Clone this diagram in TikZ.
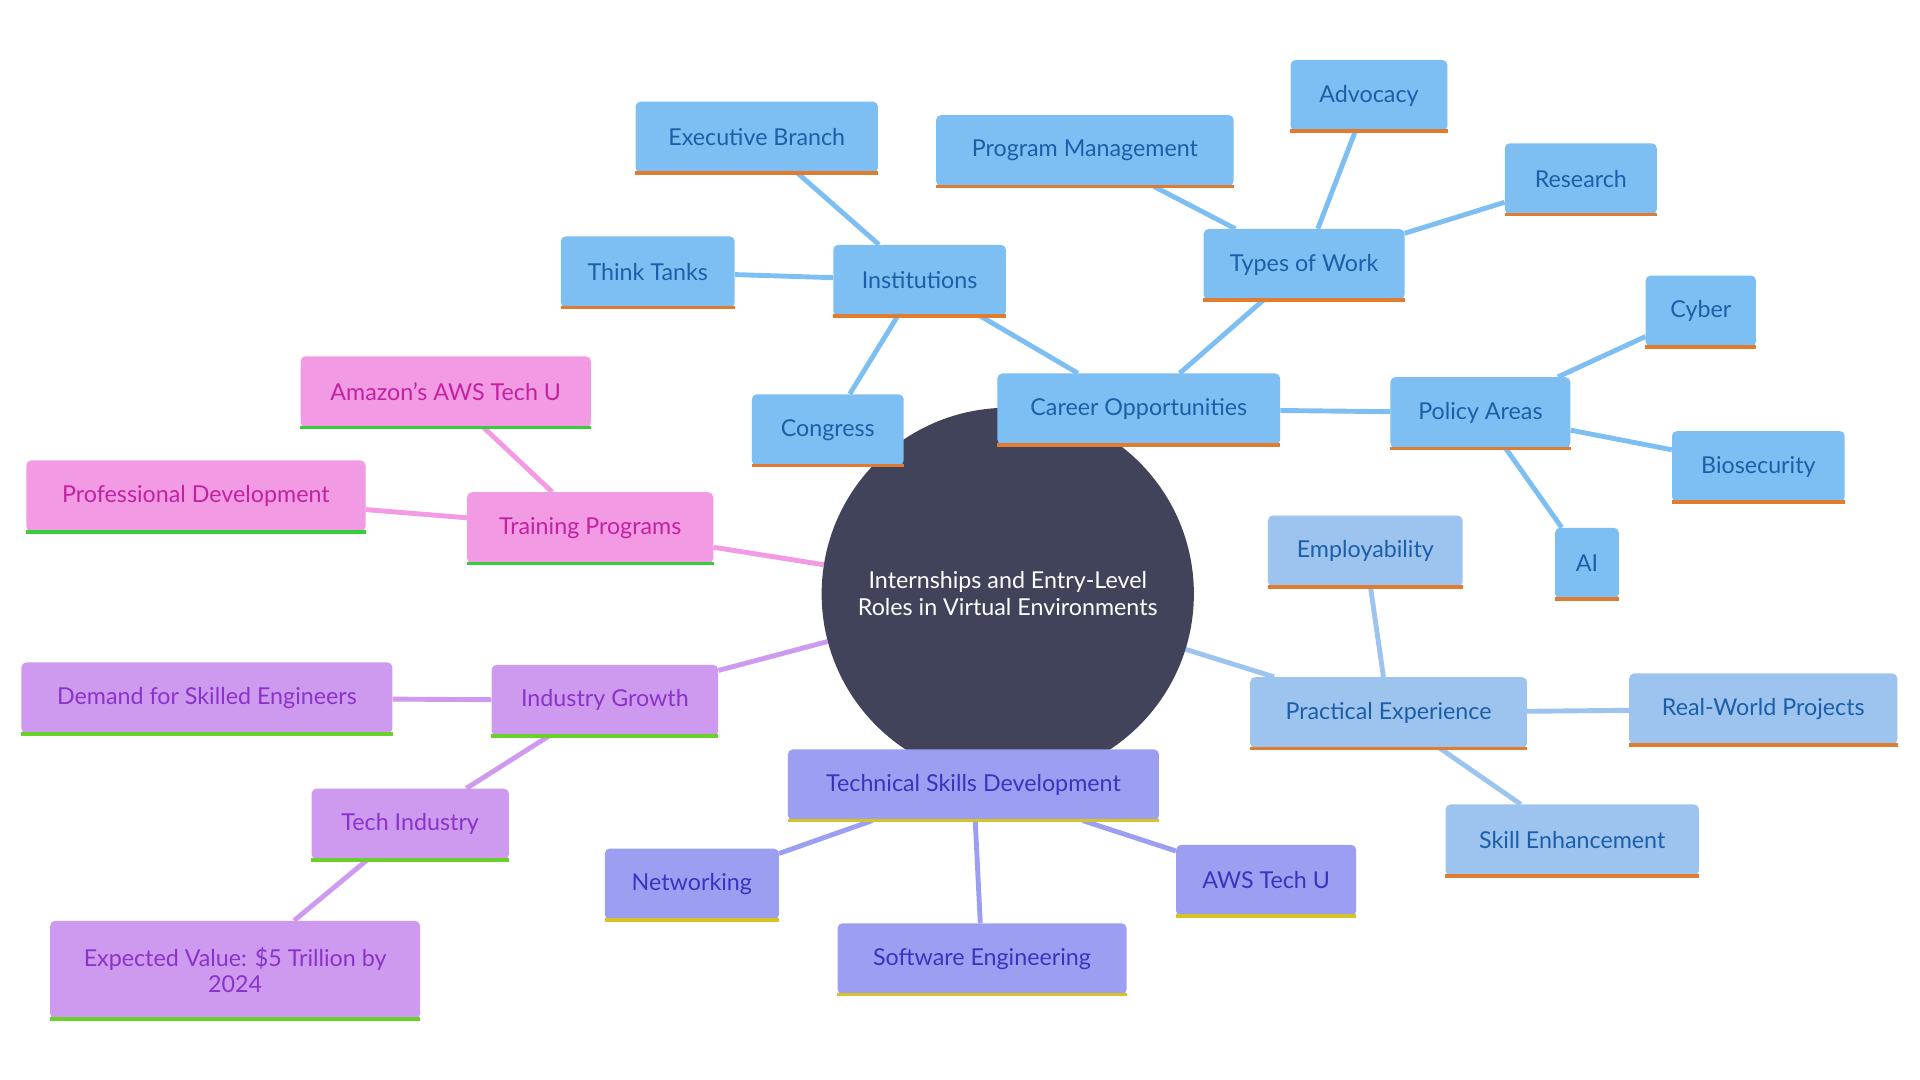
\documentclass[tikz,border=0pt]{standalone}
\usepackage{fontspec}
\setmainfont{Lato}
\usetikzlibrary{backgrounds}
\definecolor{hub}{HTML}{40435A}
\definecolor{cblue}{HTML}{7DBFF2}\definecolor{tblue}{HTML}{1B5FA8}
\definecolor{cpale}{HTML}{9DC3EF}
\definecolor{cviolet}{HTML}{9C9FF1}\definecolor{tviolet}{HTML}{3A33C0}
\definecolor{cpurple}{HTML}{CD9AF0}\definecolor{tpurple}{HTML}{8B32C8}
\definecolor{cpink}{HTML}{F29BE4}\definecolor{tpink}{HTML}{C2229F}
\definecolor{lorange}{HTML}{E07B30}\definecolor{lyellow}{HTML}{D6C423}
\definecolor{lgreen}{HTML}{6BD12A}\definecolor{lgreen2}{HTML}{35CE3A}
\tikzset{
  box/.style={rounded corners=4pt, minimum height=58pt, inner sep=0pt, align=center, font=\fontsize{19}{21}\selectfont},
  blue/.style={box, fill=cblue, text=tblue},
  pale/.style={box, fill=cpale, text=tblue},
  violet/.style={box, fill=cviolet, text=tviolet},
  purple/.style={box, fill=cpurple, text=tpurple},
  pink/.style={box, fill=cpink, text=tpink},
  link/.style={line width=4pt},
}
\begin{document}
\begin{tikzpicture}[x=1pt,y=-1pt]
  \useasboundingbox (0,0) rectangle (1568,882);
  \node[circle, fill=hub, minimum size=304pt, text=white, align=center, font=\fontsize{19}{22}\selectfont] (hubnode) at (823,485) {Internships and Entry-Level\\Roles in Virtual Environments};
  % boxes: name / x / y / width / style / text
  \foreach \n/\x/\y/\w/\s/\t in {
    career/930/334/231/blue/Career Opportunities,
    inst/751/229/141/blue/Institutions,
    exec/618/112/198/blue/Executive Branch,
    think/529/222/142/blue/Think Tanks,
    cong/676/351/124/blue/Congress,
    types/1065/216/164/blue/Types of Work,
    prog/886/123/243/blue/Program Management,
    advo/1118/78/128/blue/Advocacy,
    resr/1291/146/124/blue/Research,
    policy/1209/337/147/blue/Policy Areas,
    cyber/1389/254/90/blue/Cyber,
    bios/1436/381/141/blue/Biosecurity,
    ai/1296/460/52/blue/AI,
    pract/1134/582/226/pale/Practical Experience,
    empl/1115/450/159/pale/Employability,
    real/1440/579/219/pale/Real-World Projects,
    skill/1284/686/207/pale/Skill Enhancement,
    tech/795/641/303/violet/Technical Skills Development,
    netw/565/722/142/violet/Networking,
    soft/802/783/236/violet/Software Engineering,
    aws/1034/719/147/violet/AWS Tech U,
    indg/494/572/185/purple/Industry Growth,
    dem/169/570/303/purple/Demand for Skilled Engineers,
    tind/335/673/161/purple/Tech Industry,
    train/482/431/201/pink/Training Programs,
    prof/160/405/277/pink/Professional Development,
    amaz/364/320/237/pink/Amazon’s AWS Tech U}
    \node[\s, minimum width=\w pt] (\n) at (\x,\y) {\t};
  \node[purple, minimum width=302pt, minimum height=80pt] (expv) at (192,792) {Expected Value: \$5 Trillion by\\2024};
  % bottom lines
  \foreach \n in {career,inst,exec,think,cong,types,prog,advo,resr,policy,cyber,bios,ai,pract,empl,real,skill}
    \draw[line width=3pt, lorange] (\n.south west) -- (\n.south east);
  \foreach \n in {tech,netw,soft,aws}
    \draw[line width=3pt, lyellow] (\n.south west) -- (\n.south east);
  \foreach \n in {indg,dem,tind,expv}
    \draw[line width=3pt, lgreen] (\n.south west) -- (\n.south east);
  \foreach \n in {train,prof,amaz}
    \draw[line width=3pt, lgreen2] (\n.south west) -- (\n.south east);
  % connectors
  \begin{scope}[on background layer]
    \foreach \a/\b in {hubnode/career,career/inst,inst/exec,inst/think,inst/cong,career/types,types/prog,types/advo,types/resr,career/policy,policy/cyber,policy/bios,policy/ai}
      \draw[link, cblue] (\a) -- (\b);
    \foreach \a/\b in {hubnode/pract,pract/empl,pract/real,pract/skill}
      \draw[link, cpale] (\a) -- (\b);
    \foreach \a/\b in {hubnode/tech,tech/netw,tech/soft,tech/aws}
      \draw[link, cviolet] (\a) -- (\b);
    \foreach \a/\b in {hubnode/indg,indg/dem,indg/tind,tind/expv}
      \draw[link, cpurple] (\a) -- (\b);
    \foreach \a/\b in {hubnode/train,train/prof,train/amaz}
      \draw[link, cpink] (\a) -- (\b);
  \end{scope}
\end{tikzpicture}
\end{document}
